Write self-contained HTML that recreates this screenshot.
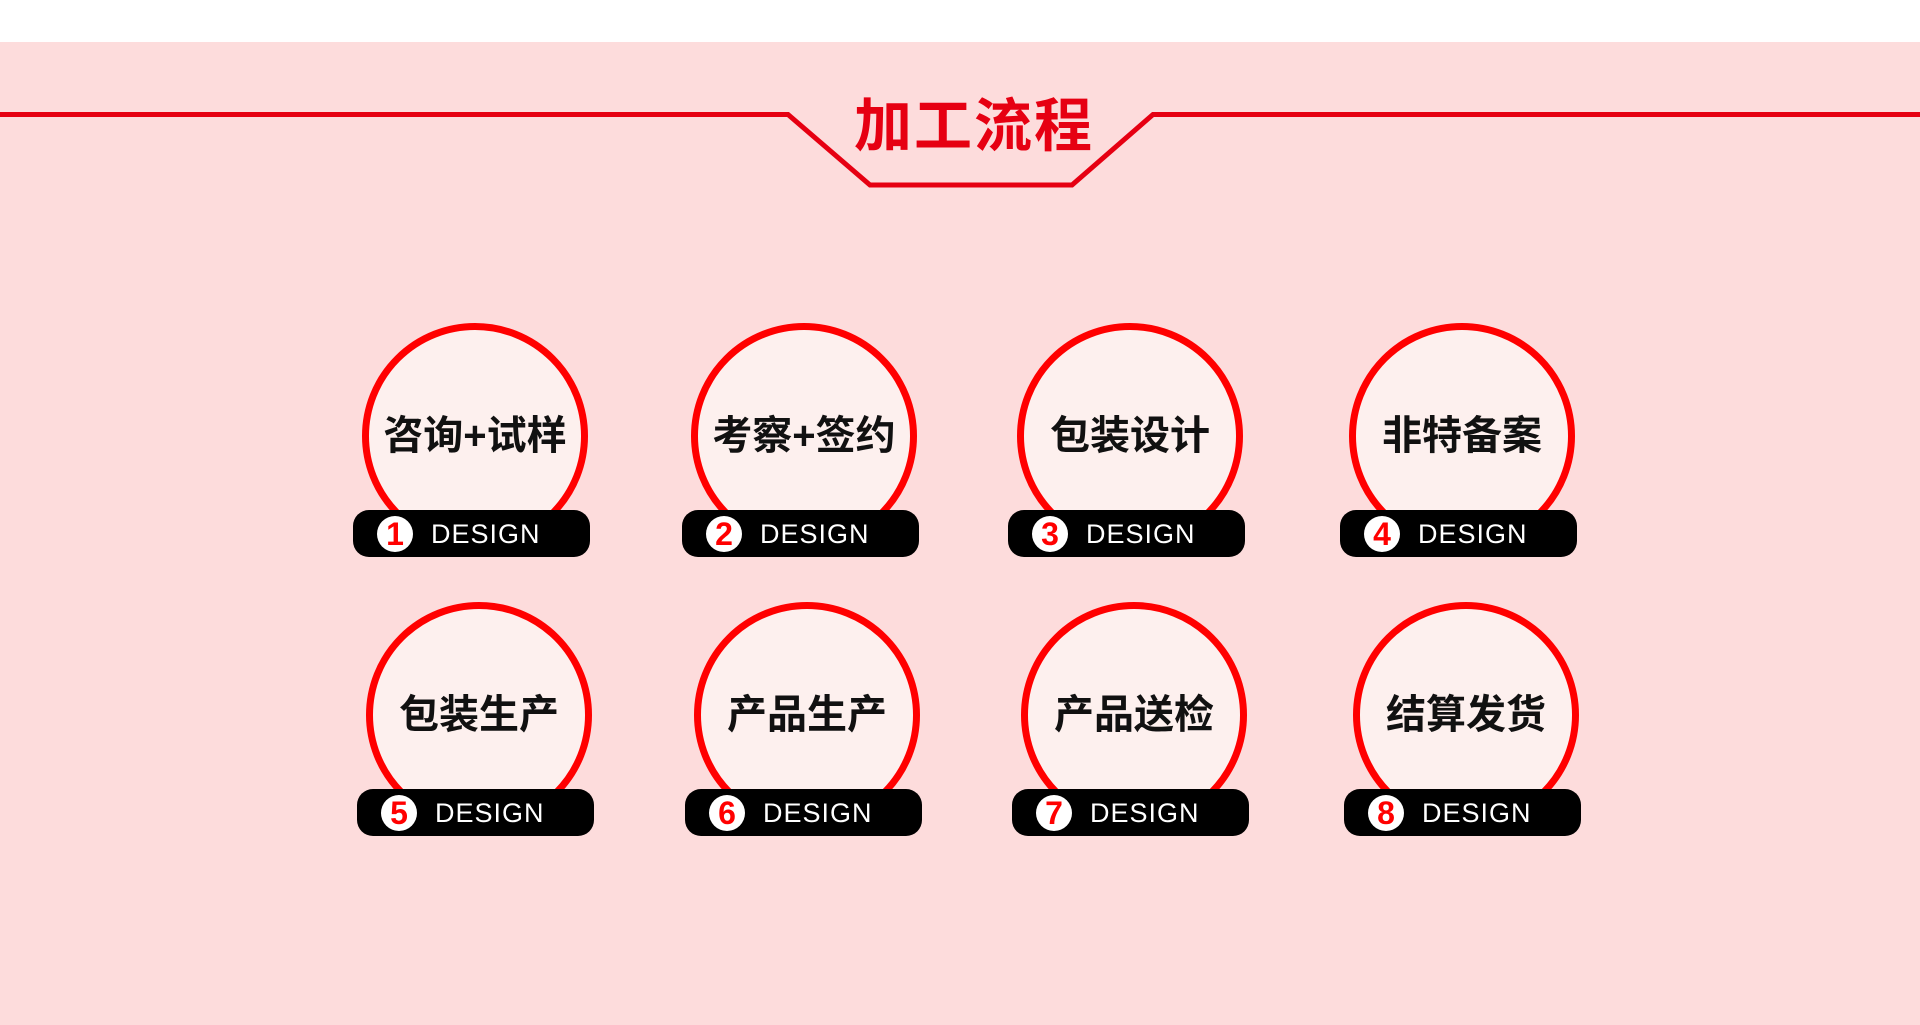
<!DOCTYPE html>
<html><head><meta charset="utf-8"><style>
body{margin:0;width:1920px;height:1025px;background:#fddcdc;position:relative;overflow:hidden;font-family:"Liberation Sans","Noto Sans CJK SC",sans-serif}
.top{position:absolute;left:0;top:0;width:1920px;height:42px;background:#fff}
.title{position:absolute;left:14px;width:1920px;top:92px;text-align:center;font-size:58px;font-weight:bold;color:#e60012;line-height:70px;letter-spacing:2px}
.c{position:absolute;width:212px;height:212px;border:7px solid #f00;border-radius:50%;background:#fdf0ee;box-sizing:content-box}
.c span{position:absolute;left:-20px;right:-20px;top:0;line-height:212px;text-align:center;font-size:40px;font-weight:bold;color:#111}
.p{position:absolute;width:237px;height:47px;border-radius:16px;background:#000}
.n{position:absolute;left:24px;top:6px;width:36px;height:36px;border-radius:50%;background:#fff;color:#f00;font-weight:bold;font-size:32px;line-height:36px;text-align:center}
.d{position:absolute;left:78px;top:0;line-height:49px;color:#fff;font-size:27px;letter-spacing:1px}
</style></head><body>
<div class="top"></div>
<svg style="position:absolute;left:0;top:0" width="1920" height="200"><polyline points="0,114.5 788,114.5 870,185 1072,185 1153,114.5 1920,114.5" fill="none" stroke="#e60012" stroke-width="5"/></svg>
<div class="title">加工流程</div>
<div class="c" style="left:362px;top:323px"><span>咨询+试样</span></div><div class="p" style="left:353px;top:510px"><div class="n">1</div><div class="d">DESIGN</div></div>
<div class="c" style="left:691px;top:323px"><span>考察+签约</span></div><div class="p" style="left:682px;top:510px"><div class="n">2</div><div class="d">DESIGN</div></div>
<div class="c" style="left:1017px;top:323px"><span>包装设计</span></div><div class="p" style="left:1008px;top:510px"><div class="n">3</div><div class="d">DESIGN</div></div>
<div class="c" style="left:1349px;top:323px"><span>非特备案</span></div><div class="p" style="left:1340px;top:510px"><div class="n">4</div><div class="d">DESIGN</div></div>
<div class="c" style="left:366px;top:602px"><span>包装生产</span></div><div class="p" style="left:357px;top:789px"><div class="n">5</div><div class="d">DESIGN</div></div>
<div class="c" style="left:694px;top:602px"><span>产品生产</span></div><div class="p" style="left:685px;top:789px"><div class="n">6</div><div class="d">DESIGN</div></div>
<div class="c" style="left:1021px;top:602px"><span>产品送检</span></div><div class="p" style="left:1012px;top:789px"><div class="n">7</div><div class="d">DESIGN</div></div>
<div class="c" style="left:1353px;top:602px"><span>结算发货</span></div><div class="p" style="left:1344px;top:789px"><div class="n">8</div><div class="d">DESIGN</div></div>
</body></html>
